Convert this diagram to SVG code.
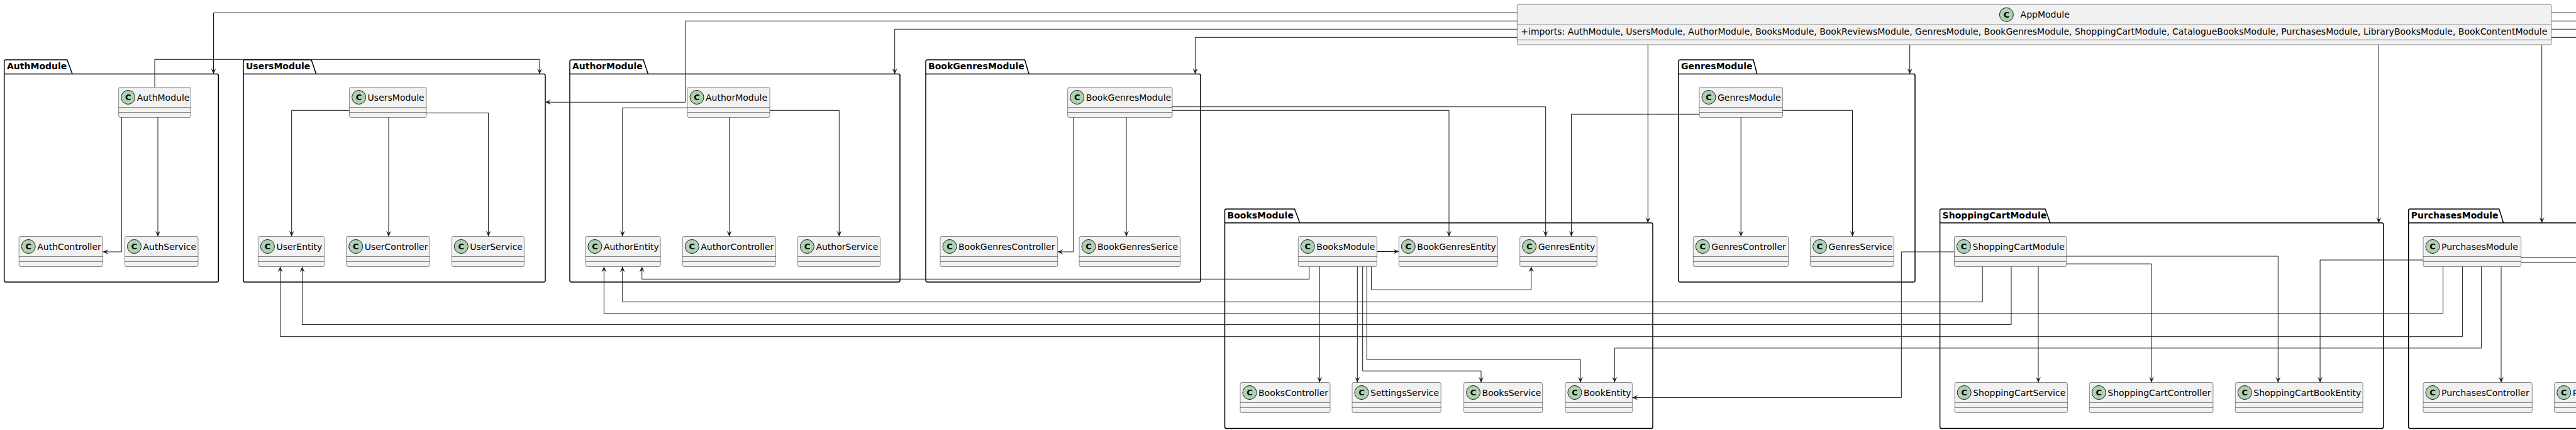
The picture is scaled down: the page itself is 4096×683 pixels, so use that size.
<svg xmlns="http://www.w3.org/2000/svg" width="4096" height="683" viewBox="0 0 4096 683">
<style>
.pkg{fill:none;stroke:#000000;stroke-width:1.5}
.plabel{font-family:"DejaVu Sans",sans-serif;font-size:14px;font-weight:bold;fill:#000000}
.box{fill:#F1F1F1;stroke:#181818;stroke-width:0.5}
.sep{stroke:#181818;stroke-width:0.5}
.circ{fill:#ADD1B2;stroke:#181818;stroke-width:1}
.cl{font-family:"DejaVu Sans",sans-serif;font-size:13px;font-weight:bold;fill:#000000;text-anchor:middle}
.nm{font-family:"DejaVu Sans",sans-serif;font-size:14px;fill:#000000}
.edge{fill:none;stroke:#181818;stroke-width:1}
.arr{marker-end:url(#ah)}
</style>
<defs>
<marker id="ah" viewBox="0 0 10 8" refX="9" refY="4" markerWidth="10" markerHeight="8" markerUnits="userSpaceOnUse" orient="auto">
<path d="M0,0 L9,4 L0,8 L4,4 Z" fill="#181818"/>
</marker>
</defs>
<rect width="4096" height="683" fill="#FFFFFF"/>

<!-- packages -->
<g id="pkg-AuthModule">
<path class="pkg" d="M6.7,117.5 V97.5 Q6.7,95 9.2,95 H106.7 L115,117.5"/>
<path class="pkg" d="M6.7,117.5 H344.8 Q347.3,117.5 347.3,120 V445.5 Q347.3,448 344.8,448 H9.2 Q6.7,448 6.7,445.5 Z"/>
<text class="plabel" x="11" y="109.5">AuthModule</text>
</g>
<g id="pkg-UsersModule">
<path class="pkg" d="M387,117.5 V97.5 Q387,95 389.5,95 H495 L502.7,117.5"/>
<path class="pkg" d="M387,117.5 H864.5 Q867,117.5 867,120 V445.5 Q867,448 864.5,448 H389.5 Q387,448 387,445.5 Z"/>
<text class="plabel" x="391" y="109.5">UsersModule</text>
</g>
<g id="pkg-AuthorModule">
<path class="pkg" d="M906,117.5 V97.5 Q906,95 908.5,95 H1023 L1030.5,117.5"/>
<path class="pkg" d="M906,117.5 H1428.5 Q1431,117.5 1431,120 V445.5 Q1431,448 1428.5,448 H908.5 Q906,448 906,445.5 Z"/>
<text class="plabel" x="910" y="109.5">AuthorModule</text>
</g>
<g id="pkg-BookGenresModule">
<path class="pkg" d="M1472,117.5 V97.5 Q1472,95 1474.5,95 H1629.5 L1636,117.5"/>
<path class="pkg" d="M1472,117.5 H1906.5 Q1909,117.5 1909,120 V445.5 Q1909,448 1906.5,448 H1474.5 Q1472,448 1472,445.5 Z"/>
<text class="plabel" x="1476" y="109.5">BookGenresModule</text>
</g>
<g id="pkg-GenresModule">
<path class="pkg" d="M2669,117.5 V97.5 Q2669,95 2671.5,95 H2788 L2793.7,117.5"/>
<path class="pkg" d="M2669,117.5 H3042.5 Q3045,117.5 3045,120 V445.5 Q3045,448 3042.5,448 H2671.5 Q2669,448 2669,445.5 Z"/>
<text class="plabel" x="2673" y="109.5">GenresModule</text>
</g>
<g id="pkg-BooksModule">
<path class="pkg" d="M1947.5,354 V334.5 Q1947.5,332 1950,332 H2058.5 L2066.7,354"/>
<path class="pkg" d="M1947.5,354 H2625.5 Q2628,354 2628,356.5 V678 Q2628,680.5 2625.5,680.5 H1950 Q1947.5,680.5 1947.5,678 Z"/>
<text class="plabel" x="1951.5" y="346.5">BooksModule</text>
</g>
<g id="pkg-ShoppingCartModule">
<path class="pkg" d="M3084.6,354 V334.5 Q3084.6,332 3087.1,332 H3252 L3260,354"/>
<path class="pkg" d="M3084.6,354 H3787.2 Q3789.7,354 3789.7,356.5 V678 Q3789.7,680.5 3787.2,680.5 H3087.1 Q3084.6,680.5 3084.6,678 Z"/>
<text class="plabel" x="3088.6" y="346.5">ShoppingCartModule</text>
</g>
<g id="pkg-PurchasesModule">
<path class="pkg" d="M3829.7,354 V334.5 Q3829.7,332 3832.2,332 H3973.7 L3980.6,354"/>
<path class="pkg" d="M3829.7,354 H4197.5 Q4200,354 4200,356.5 V678 Q4200,680.5 4197.5,680.5 H3832.2 Q3829.7,680.5 3829.7,678 Z"/>
<text class="plabel" x="3833.7" y="346.5">PurchasesModule</text>
</g>

<!-- AppModule -->
<g id="AppModule">
<rect class="box" x="2412.3" y="7.3" width="1644.7" height="63.7" rx="2.5"/>
<line class="sep" x1="2412.3" y1="39.3" x2="4057" y2="39.3"/>
<line class="sep" x1="2412.3" y1="63.3" x2="4057" y2="63.3"/>
<circle class="circ" cx="3190.4" cy="23.3" r="11"/>
<text class="cl" x="3190.4" y="28">C</text>
<text class="nm" x="3212.6" y="28.3">AppModule</text>
<text class="nm" x="2418.3" y="55.3" textLength="1632" lengthAdjust="spacing">+imports: AuthModule, UsersModule, AuthorModule, BooksModule, BookReviewsModule, GenresModule, BookGenresModule, ShoppingCartModule, CatalogueBooksModule, PurchasesModule, LibraryBooksModule, BookContentModule</text>
</g>

<!-- row A classes (y=138.5) -->
<g id="AuthModule"><rect class="box" x="188.7" y="138.5" width="114.6" height="48" rx="2.5"/><line class="sep" x1="188.7" y1="170.5" x2="303.3" y2="170.5"/><line class="sep" x1="188.7" y1="178.5" x2="303.3" y2="178.5"/><circle class="circ" cx="203.7" cy="154.5" r="11"/><text class="cl" x="203.7" y="159.2">C</text><text class="nm" x="217.7" y="159.5">AuthModule</text></g>
<g id="UsersModule"><rect class="box" x="555.6" y="138.5" width="122.4" height="48" rx="2.5"/><line class="sep" x1="555.6" y1="170.5" x2="678" y2="170.5"/><line class="sep" x1="555.6" y1="178.5" x2="678" y2="178.5"/><circle class="circ" cx="570.6" cy="154.5" r="11"/><text class="cl" x="570.6" y="159.2">C</text><text class="nm" x="584.6" y="159.5">UsersModule</text></g>
<g id="AuthorModule"><rect class="box" x="1093" y="138.5" width="131" height="48" rx="2.5"/><line class="sep" x1="1093" y1="170.5" x2="1224" y2="170.5"/><line class="sep" x1="1093" y1="178.5" x2="1224" y2="178.5"/><circle class="circ" cx="1108" cy="154.5" r="11"/><text class="cl" x="1108" y="159.2">C</text><text class="nm" x="1122" y="159.5">AuthorModule</text></g>
<g id="BookGenresModule"><rect class="box" x="1697.7" y="138.5" width="166.3" height="48" rx="2.5"/><line class="sep" x1="1697.7" y1="170.5" x2="1864" y2="170.5"/><line class="sep" x1="1697.7" y1="178.5" x2="1864" y2="178.5"/><circle class="circ" cx="1712.7" cy="154.5" r="11"/><text class="cl" x="1712.7" y="159.2">C</text><text class="nm" x="1726.7" y="159.5">BookGenresModule</text></g>
<g id="GenresModule"><rect class="box" x="2702" y="138.5" width="132.6" height="48" rx="2.5"/><line class="sep" x1="2702" y1="170.5" x2="2834.6" y2="170.5"/><line class="sep" x1="2702" y1="178.5" x2="2834.6" y2="178.5"/><circle class="circ" cx="2717" cy="154.5" r="11"/><text class="cl" x="2717" y="159.2">C</text><text class="nm" x="2731" y="159.5">GenresModule</text></g>

<!-- row B classes (y=375.5) -->
<g id="AuthController"><rect class="box" x="30.2" y="375.5" width="133.3" height="48" rx="2.5"/><line class="sep" x1="30.2" y1="407.5" x2="163.5" y2="407.5"/><line class="sep" x1="30.2" y1="415.5" x2="163.5" y2="415.5"/><circle class="circ" cx="45.2" cy="391.5" r="11"/><text class="cl" x="45.2" y="396.2">C</text><text class="nm" x="59.2" y="396.5">AuthController</text></g>
<g id="AuthService"><rect class="box" x="198.5" y="375.5" width="116.5" height="48" rx="2.5"/><line class="sep" x1="198.5" y1="407.5" x2="315" y2="407.5"/><line class="sep" x1="198.5" y1="415.5" x2="315" y2="415.5"/><circle class="circ" cx="213.5" cy="391.5" r="11"/><text class="cl" x="213.5" y="396.2">C</text><text class="nm" x="227.5" y="396.5">AuthService</text></g>
<g id="UserEntity"><rect class="box" x="410.4" y="375.5" width="105.2" height="48" rx="2.5"/><line class="sep" x1="410.4" y1="407.5" x2="515.6" y2="407.5"/><line class="sep" x1="410.4" y1="415.5" x2="515.6" y2="415.5"/><circle class="circ" cx="425.4" cy="391.5" r="11"/><text class="cl" x="425.4" y="396.2">C</text><text class="nm" x="439.4" y="396.5">UserEntity</text></g>
<g id="UserController"><rect class="box" x="550.7" y="375.5" width="132.6" height="48" rx="2.5"/><line class="sep" x1="550.7" y1="407.5" x2="683.3" y2="407.5"/><line class="sep" x1="550.7" y1="415.5" x2="683.3" y2="415.5"/><circle class="circ" cx="565.7" cy="391.5" r="11"/><text class="cl" x="565.7" y="396.2">C</text><text class="nm" x="579.7" y="396.5">UserController</text></g>
<g id="UserService"><rect class="box" x="718.3" y="375.5" width="115.1" height="48" rx="2.5"/><line class="sep" x1="718.3" y1="407.5" x2="833.4" y2="407.5"/><line class="sep" x1="718.3" y1="415.5" x2="833.4" y2="415.5"/><circle class="circ" cx="733.3" cy="391.5" r="11"/><text class="cl" x="733.3" y="396.2">C</text><text class="nm" x="747.3" y="396.5">UserService</text></g>
<g id="AuthorEntity"><rect class="box" x="930.9" y="375.5" width="119.3" height="48" rx="2.5"/><line class="sep" x1="930.9" y1="407.5" x2="1050.2" y2="407.5"/><line class="sep" x1="930.9" y1="415.5" x2="1050.2" y2="415.5"/><circle class="circ" cx="945.9" cy="391.5" r="11"/><text class="cl" x="945.9" y="396.2">C</text><text class="nm" x="959.9" y="396.5">AuthorEntity</text></g>
<g id="AuthorController"><rect class="box" x="1085.3" y="375.5" width="148" height="48" rx="2.5"/><line class="sep" x1="1085.3" y1="407.5" x2="1233.3" y2="407.5"/><line class="sep" x1="1085.3" y1="415.5" x2="1233.3" y2="415.5"/><circle class="circ" cx="1100.3" cy="391.5" r="11"/><text class="cl" x="1100.3" y="396.2">C</text><text class="nm" x="1114.3" y="396.5">AuthorController</text></g>
<g id="AuthorService"><rect class="box" x="1268.4" y="375.5" width="131.1" height="48" rx="2.5"/><line class="sep" x1="1268.4" y1="407.5" x2="1399.5" y2="407.5"/><line class="sep" x1="1268.4" y1="415.5" x2="1399.5" y2="415.5"/><circle class="circ" cx="1283.4" cy="391.5" r="11"/><text class="cl" x="1283.4" y="396.2">C</text><text class="nm" x="1297.4" y="396.5">AuthorService</text></g>
<g id="BookGenresController"><rect class="box" x="1495" y="375.5" width="186.6" height="48" rx="2.5"/><line class="sep" x1="1495" y1="407.5" x2="1681.6" y2="407.5"/><line class="sep" x1="1495" y1="415.5" x2="1681.6" y2="415.5"/><circle class="circ" cx="1510" cy="391.5" r="11"/><text class="cl" x="1510" y="396.2">C</text><text class="nm" x="1524" y="396.5">BookGenresController</text></g>
<g id="BookGenresSerice"><rect class="box" x="1716" y="375.5" width="160.6" height="48" rx="2.5"/><line class="sep" x1="1716" y1="407.5" x2="1876.6" y2="407.5"/><line class="sep" x1="1716" y1="415.5" x2="1876.6" y2="415.5"/><circle class="circ" cx="1731" cy="391.5" r="11"/><text class="cl" x="1731" y="396.2">C</text><text class="nm" x="1745" y="396.5">BookGenresSerice</text></g>
<g id="BooksModule"><rect class="box" x="2064.3" y="375.5" width="125" height="48" rx="2.5"/><line class="sep" x1="2064.3" y1="407.5" x2="2189.3" y2="407.5"/><line class="sep" x1="2064.3" y1="415.5" x2="2189.3" y2="415.5"/><circle class="circ" cx="2079.3" cy="391.5" r="11"/><text class="cl" x="2079.3" y="396.2">C</text><text class="nm" x="2093.3" y="396.5">BooksModule</text></g>
<g id="BookGenresEntity"><rect class="box" x="2224.3" y="375.5" width="157" height="48" rx="2.5"/><line class="sep" x1="2224.3" y1="407.5" x2="2381.3" y2="407.5"/><line class="sep" x1="2224.3" y1="415.5" x2="2381.3" y2="415.5"/><circle class="circ" cx="2239.3" cy="391.5" r="11"/><text class="cl" x="2239.3" y="396.2">C</text><text class="nm" x="2253.3" y="396.5">BookGenresEntity</text></g>
<g id="GenresEntity"><rect class="box" x="2416.7" y="375.5" width="122.6" height="48" rx="2.5"/><line class="sep" x1="2416.7" y1="407.5" x2="2539.3" y2="407.5"/><line class="sep" x1="2416.7" y1="415.5" x2="2539.3" y2="415.5"/><circle class="circ" cx="2431.7" cy="391.5" r="11"/><text class="cl" x="2431.7" y="396.2">C</text><text class="nm" x="2445.7" y="396.5">GenresEntity</text></g>
<g id="GenresController"><rect class="box" x="2692.3" y="375.5" width="151.2" height="48" rx="2.5"/><line class="sep" x1="2692.3" y1="407.5" x2="2843.5" y2="407.5"/><line class="sep" x1="2692.3" y1="415.5" x2="2843.5" y2="415.5"/><circle class="circ" cx="2707.3" cy="391.5" r="11"/><text class="cl" x="2707.3" y="396.2">C</text><text class="nm" x="2721.3" y="396.5">GenresController</text></g>
<g id="GenresService"><rect class="box" x="2878.6" y="375.5" width="132.6" height="48" rx="2.5"/><line class="sep" x1="2878.6" y1="407.5" x2="3011.2" y2="407.5"/><line class="sep" x1="2878.6" y1="415.5" x2="3011.2" y2="415.5"/><circle class="circ" cx="2893.6" cy="391.5" r="11"/><text class="cl" x="2893.6" y="396.2">C</text><text class="nm" x="2907.6" y="396.5">GenresService</text></g>
<g id="ShoppingCartModule"><rect class="box" x="3107.5" y="375.5" width="178.2" height="48" rx="2.5"/><line class="sep" x1="3107.5" y1="407.5" x2="3285.7" y2="407.5"/><line class="sep" x1="3107.5" y1="415.5" x2="3285.7" y2="415.5"/><circle class="circ" cx="3122.5" cy="391.5" r="11"/><text class="cl" x="3122.5" y="396.2">C</text><text class="nm" x="3136.5" y="396.5">ShoppingCartModule</text></g>
<g id="PurchasesModule"><rect class="box" x="3853" y="375.5" width="155.6" height="48" rx="2.5"/><line class="sep" x1="3853" y1="407.5" x2="4008.6" y2="407.5"/><line class="sep" x1="3853" y1="415.5" x2="4008.6" y2="415.5"/><circle class="circ" cx="3868" cy="391.5" r="11"/><text class="cl" x="3868" y="396.2">C</text><text class="nm" x="3882" y="396.5">PurchasesModule</text></g>

<!-- row C classes (y=607.5) -->
<g id="BooksController"><rect class="box" x="1972" y="607.5" width="143" height="48" rx="2.5"/><line class="sep" x1="1972" y1="639.5" x2="2115" y2="639.5"/><line class="sep" x1="1972" y1="647.5" x2="2115" y2="647.5"/><circle class="circ" cx="1987" cy="623.5" r="11"/><text class="cl" x="1987" y="628.2">C</text><text class="nm" x="2001" y="628.5">BooksController</text></g>
<g id="SettingsService"><rect class="box" x="2150" y="607.5" width="141.2" height="48" rx="2.5"/><line class="sep" x1="2150" y1="639.5" x2="2291.2" y2="639.5"/><line class="sep" x1="2150" y1="647.5" x2="2291.2" y2="647.5"/><circle class="circ" cx="2165" cy="623.5" r="11"/><text class="cl" x="2165" y="628.2">C</text><text class="nm" x="2179" y="628.5">SettingsService</text></g>
<g id="BooksService"><rect class="box" x="2327.6" y="607.5" width="125" height="48" rx="2.5"/><line class="sep" x1="2327.6" y1="639.5" x2="2452.6" y2="639.5"/><line class="sep" x1="2327.6" y1="647.5" x2="2452.6" y2="647.5"/><circle class="circ" cx="2342.6" cy="623.5" r="11"/><text class="cl" x="2342.6" y="628.2">C</text><text class="nm" x="2356.6" y="628.5">BooksService</text></g>
<g id="BookEntity"><rect class="box" x="2488.9" y="607.5" width="106.5" height="48" rx="2.5"/><line class="sep" x1="2488.9" y1="639.5" x2="2595.4" y2="639.5"/><line class="sep" x1="2488.9" y1="647.5" x2="2595.4" y2="647.5"/><circle class="circ" cx="2503.9" cy="623.5" r="11"/><text class="cl" x="2503.9" y="628.2">C</text><text class="nm" x="2517.9" y="628.5">BookEntity</text></g>
<g id="ShoppingCartService"><rect class="box" x="3108.2" y="607.5" width="179.2" height="48" rx="2.5"/><line class="sep" x1="3108.2" y1="639.5" x2="3287.4" y2="639.5"/><line class="sep" x1="3108.2" y1="647.5" x2="3287.4" y2="647.5"/><circle class="circ" cx="3123.2" cy="623.5" r="11"/><text class="cl" x="3123.2" y="628.2">C</text><text class="nm" x="3137.2" y="628.5">ShoppingCartService</text></g>
<g id="ShoppingCartController"><rect class="box" x="3322.3" y="607.5" width="196.6" height="48" rx="2.5"/><line class="sep" x1="3322.3" y1="639.5" x2="3518.9" y2="639.5"/><line class="sep" x1="3322.3" y1="647.5" x2="3518.9" y2="647.5"/><circle class="circ" cx="3337.3" cy="623.5" r="11"/><text class="cl" x="3337.3" y="628.2">C</text><text class="nm" x="3351.3" y="628.5">ShoppingCartController</text></g>
<g id="ShoppingCartBookEntity"><rect class="box" x="3554.3" y="607.5" width="202.8" height="48" rx="2.5"/><line class="sep" x1="3554.3" y1="639.5" x2="3757.1" y2="639.5"/><line class="sep" x1="3554.3" y1="647.5" x2="3757.1" y2="647.5"/><circle class="circ" cx="3569.3" cy="623.5" r="11"/><text class="cl" x="3569.3" y="628.2">C</text><text class="nm" x="3583.3" y="628.5">ShoppingCartBookEntity</text></g>
<g id="PurchasesController"><rect class="box" x="3853" y="607.5" width="173.3" height="48" rx="2.5"/><line class="sep" x1="3853" y1="639.5" x2="4026.3" y2="639.5"/><line class="sep" x1="3853" y1="647.5" x2="4026.3" y2="647.5"/><circle class="circ" cx="3868" cy="623.5" r="11"/><text class="cl" x="3868" y="628.2">C</text><text class="nm" x="3882" y="628.5">PurchasesController</text></g>
<g id="P"><rect class="box" x="4061.7" y="607.5" width="150" height="48" rx="2.5"/><line class="sep" x1="4061.7" y1="639.5" x2="4211.7" y2="639.5"/><line class="sep" x1="4061.7" y1="647.5" x2="4211.7" y2="647.5"/><circle class="circ" cx="4076.7" cy="623.5" r="11"/><text class="cl" x="4076.7" y="628.2">C</text><text class="nm" x="4090.7" y="628.5">P</text></g>

<!-- connectors -->
<g id="connectors">
<path class="edge arr" d="M2412.3,20.3 H339.5 V117.5"/>
<path class="edge arr" d="M2412.3,33.3 H1089.5 V162.3 H867"/>
<path class="edge arr" d="M2412.3,46.3 H1422.7 V117.5"/>
<path class="edge arr" d="M2412.3,59.3 H1900.4 V117.5"/>
<path class="edge arr" d="M2620.3,71 V354"/>
<path class="edge arr" d="M3036.7,71 V117.5"/>
<path class="edge arr" d="M3782.3,71 V354"/>
<path class="edge arr" d="M4041.7,71 V354"/>
<path class="edge" d="M4057,20.3 H4100 M4057,33.3 H4100 M4057,46.3 H4100 M4057,59.3 H4100"/>

<path class="edge arr" d="M246,138.5 V94.3 H858 V117.5"/>
<path class="edge arr" d="M193.3,186.5 V400 H163.5"/>
<path class="edge arr" d="M251,186.5 V375.5"/>

<path class="edge arr" d="M555.6,175.3 H463.7 V375.5"/>
<path class="edge arr" d="M618,186.5 V375.5"/>
<path class="edge arr" d="M678,179.3 H776.6 V375.5"/>

<path class="edge arr" d="M1093,171.3 H989.8 V375.5"/>
<path class="edge arr" d="M1159.6,186.5 V375.5"/>
<path class="edge arr" d="M1224,175.3 H1334.3 V375.5"/>

<path class="edge arr" d="M1706.8,186.5 V400 H1681.6"/>
<path class="edge arr" d="M1791,186.5 V375.5"/>
<path class="edge arr" d="M1864,169.7 H2457.7 V375.5"/>
<path class="edge arr" d="M1864,175.3 H2304 V375.5"/>

<path class="edge arr" d="M2702,181.3 H2498.5 V375.5"/>
<path class="edge arr" d="M2768.2,186.5 V375.5"/>
<path class="edge arr" d="M2834.6,175.3 H2945.5 V375.5"/>

<path class="edge arr" d="M2189.3,399.5 H2224.3"/>
<path class="edge arr" d="M2081.7,423.5 V443.3 H1020.7 V423.5"/>
<path class="edge arr" d="M2098.3,423.5 V607.5"/>
<path class="edge arr" d="M2158.3,423.5 V607.5"/>
<path class="edge arr" d="M2166.7,423.5 V589.2 H2355 V607.5"/>
<path class="edge arr" d="M2173.3,423.5 V571 H2513.1 V607.5"/>
<path class="edge arr" d="M2180.7,423.5 V460.3 H2434.7 V423.5"/>

<path class="edge arr" d="M3107.5,400 H3023.3 V631.6 H2595.4"/>
<path class="edge arr" d="M3152.2,423.5 V479.6 H989.8 V423.5"/>
<path class="edge arr" d="M3198,423.5 V515.6 H480.5 V423.5"/>
<path class="edge arr" d="M3241,423.5 V607.5"/>
<path class="edge arr" d="M3285.7,407 H3622.3 V607.5"/>
<path class="edge arr" d="M3285.7,419.1 H3421 V607.5"/>

<path class="edge arr" d="M3853,413 H3689.1 V607.5"/>
<path class="edge arr" d="M3884.6,423.5 V497.8 H960.4 V423.5"/>
<path class="edge arr" d="M3915.4,423.5 V534.7 H445.5 V423.5"/>
<path class="edge arr" d="M3945.7,423.5 V552.9 H2567.3 V607.5"/>
<path class="edge arr" d="M3977,423.5 V607.5"/>
<path class="edge" d="M4008.6,409 H4100 M4008.6,417 H4100"/>
</g>
</svg>
